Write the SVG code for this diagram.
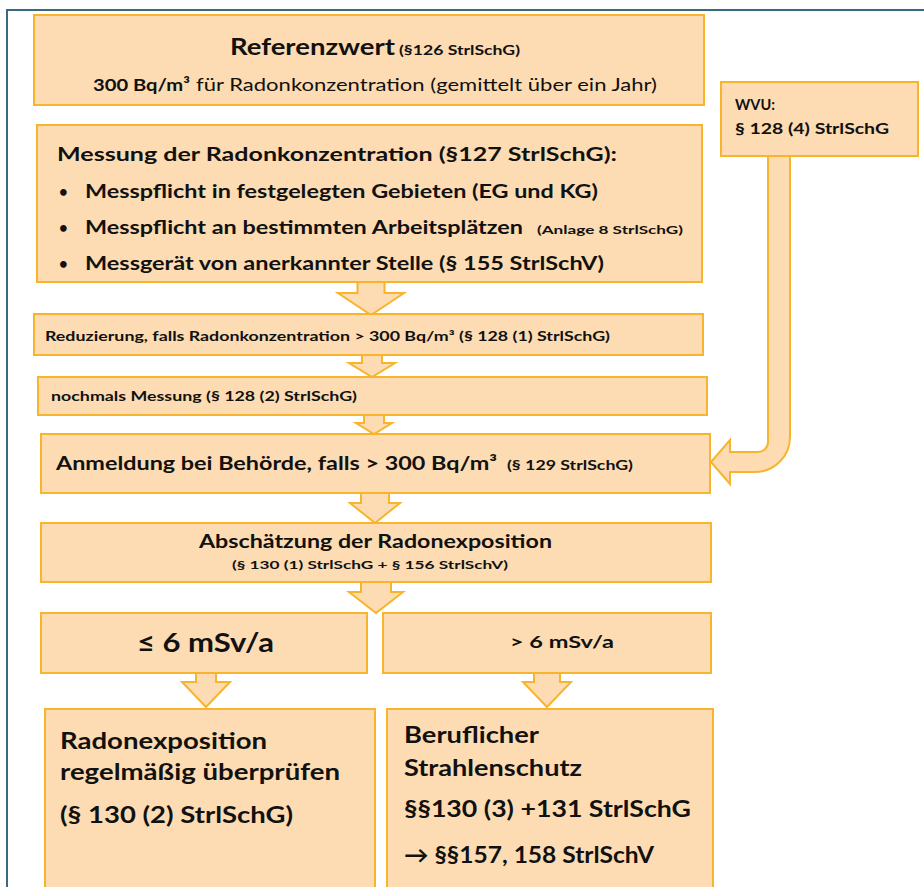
<svg xmlns="http://www.w3.org/2000/svg" width="924" height="887" viewBox="0 0 924 887">
<style>
.box{fill:#fddcb3;stroke:#f7b42c;stroke-width:2}
.arr{fill:#fddcb3;stroke:#f7b42c;stroke-width:2;stroke-linejoin:miter}
text{font-family:Lato,"Liberation Sans",sans-serif;fill:#111;font-weight:bold}
.n{font-weight:normal}
</style>
<rect width="924" height="887" fill="#fff"/>
<path d="M7,887 V10 H924" fill="none" stroke="#3a6a80" stroke-width="2"/>
<g id="connectors">
<path class="arr" d="M357.5,282 H384.5 V293 H404 L371,315 L338,293 H357.5 Z"/>
<path class="arr" d="M362,355 H382 V363 H395 L372,377 L349,363 H362 Z"/>
<path class="arr" d="M364,415 H384 V423 H392 L374,434 L356,423 H364 Z"/>
<path class="arr" d="M361,493 H389 V503 H400 L375,523 L350,503 H361 Z"/>
<path class="arr" d="M361,582 H391 V592 H403 L376,613 L349,592 H361 Z"/>
<path class="arr" d="M196,673 H216 V682 H230 L206,707 L182,682 H196 Z"/>
<path class="arr" d="M534,673 H560 V682 H571 L547,707 L523,682 H534 Z"/>
<path class="arr" d="M768,156 V442 A10,10 0 0 1 758,452 H730 V440 L711,462 L730,484 V472 H755 A35,35 0 0 0 790,437 V156 Z"/>
</g>
<g id="referenzwert">
<rect class="box" x="34" y="15" width="670" height="90"/>
<text x="230" y="55" font-size="23" textLength="165" lengthAdjust="spacingAndGlyphs">Referenzwert</text>
<text x="399" y="55" font-size="12.5" textLength="121" lengthAdjust="spacingAndGlyphs">(§126 StrlSchG)</text>
<text x="93" y="91" font-size="17.5" textLength="97" lengthAdjust="spacingAndGlyphs">300 Bq/m³</text>
<text class="n" x="196" y="91" font-size="17.5" textLength="461" lengthAdjust="spacingAndGlyphs">für Radonkonzentration (gemittelt über ein Jahr)</text>
</g>
<g id="wvu">
<rect class="box" x="721" y="82" width="197" height="74"/>
<text x="735" y="110" font-size="15" textLength="40" lengthAdjust="spacingAndGlyphs">WVU:</text>
<text x="735" y="134" font-size="15" textLength="154" lengthAdjust="spacingAndGlyphs">§ 128 (4) StrlSchG</text>
</g>
<g id="messung">
<rect class="box" x="37" y="125" width="665" height="157"/>
<text x="57" y="161" font-size="19.5" textLength="560" lengthAdjust="spacingAndGlyphs">Messung der Radonkonzentration  (§127  StrlSchG):</text>
<text x="59" y="197" font-size="15">•</text>
<text x="85" y="198" font-size="19.5" textLength="513" lengthAdjust="spacingAndGlyphs">Messpflicht in festgelegten Gebieten (EG und  KG)</text>
<text x="59" y="233" font-size="15">•</text>
<text x="85" y="234" font-size="19.5" textLength="438" lengthAdjust="spacingAndGlyphs">Messpflicht an bestimmten Arbeitsplätzen</text>
<text x="537" y="234" font-size="11" textLength="146" lengthAdjust="spacingAndGlyphs">(Anlage 8 StrlSchG)</text>
<text x="59" y="269" font-size="15">•</text>
<text x="85" y="270" font-size="19.5" textLength="519" lengthAdjust="spacingAndGlyphs">Messgerät von anerkannter Stelle (§ 155 StrlSchV)</text>
</g>
<g id="reduzierung">
<rect class="box" x="34" y="314" width="669" height="41"/>
<text x="45" y="341" font-size="13.5" textLength="565" lengthAdjust="spacingAndGlyphs">Reduzierung, falls Radonkonzentration &gt; 300 Bq/m³ (§ 128 (1) StrlSchG)</text>
</g>
<g id="nochmals">
<rect class="box" x="38" y="377" width="669" height="38"/>
<text x="51" y="401" font-size="13.5" textLength="306" lengthAdjust="spacingAndGlyphs">nochmals Messung (§ 128 (2) StrlSchG)</text>
</g>
<g id="anmeldung">
<rect class="box" x="41" y="434" width="669" height="59"/>
<text x="56" y="470" font-size="19.5" textLength="441" lengthAdjust="spacingAndGlyphs">Anmeldung bei Behörde, falls &gt; 300 Bq/m³</text>
<text x="507" y="470" font-size="12.5" textLength="126" lengthAdjust="spacingAndGlyphs">(§ 129 StrlSchG)</text>
</g>
<g id="abschaetzung">
<rect class="box" x="41" y="523" width="670" height="59"/>
<text x="199" y="548" font-size="19.5" textLength="353" lengthAdjust="spacingAndGlyphs">Abschätzung der Radonexposition</text>
<text x="232" y="569" font-size="10.5" textLength="276" lengthAdjust="spacingAndGlyphs">(§ 130 (1) StrlSchG + § 156 StrlSchV)</text>
</g>
<g id="le6">
<rect class="box" x="41" y="613" width="326" height="60"/>
<text x="137" y="652" font-size="26" textLength="137" lengthAdjust="spacingAndGlyphs">≤ 6 mSv/a</text>
</g>
<g id="gt6">
<rect class="box" x="383" y="613" width="328" height="60"/>
<text x="510" y="648" font-size="17" textLength="104" lengthAdjust="spacingAndGlyphs">&gt; 6 mSv/a</text>
</g>
<g id="pruefen">
<rect class="box" x="45" y="709" width="330" height="190"/>
<text x="60" y="749" font-size="23" textLength="207" lengthAdjust="spacingAndGlyphs">Radonexposition</text>
<text x="60" y="780" font-size="23" textLength="280" lengthAdjust="spacingAndGlyphs">regelmäßig überprüfen</text>
<text x="60" y="823" font-size="23" textLength="233" lengthAdjust="spacingAndGlyphs">(§ 130 (2) StrlSchG)</text>
</g>
<g id="strahlenschutz">
<rect class="box" x="387" y="709" width="326" height="190"/>
<text x="404" y="743" font-size="23" textLength="135" lengthAdjust="spacingAndGlyphs">Beruflicher</text>
<text x="404" y="776" font-size="23" textLength="178" lengthAdjust="spacingAndGlyphs">Strahlenschutz</text>
<text x="404" y="817" font-size="23" textLength="287" lengthAdjust="spacingAndGlyphs">§§130 (3) +131 StrlSchG</text>
<text x="404" y="863" font-size="23" textLength="250" lengthAdjust="spacingAndGlyphs">→ §§157, 158 StrlSchV</text>
</g>
</svg>
